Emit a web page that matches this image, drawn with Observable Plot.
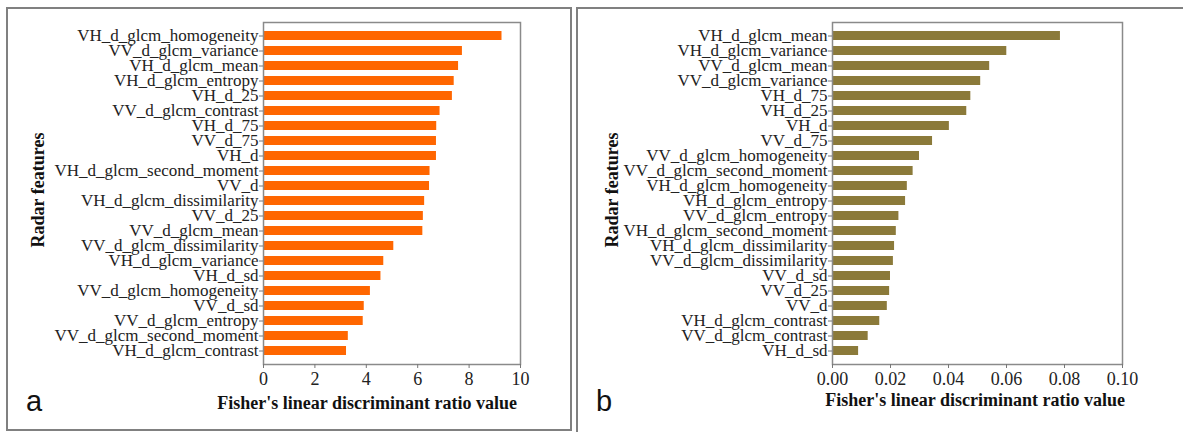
<!DOCTYPE html>
<html><head><meta charset="utf-8">
<script src="https://cdn.jsdelivr.net/npm/d3@7"></script>
<script src="https://cdn.jsdelivr.net/npm/@observablehq/plot@0.6"></script>
<style>
html,body{margin:0;padding:0;background:#fff;overflow:hidden;}
#wrap{position:relative;width:1183px;height:432px;overflow:hidden;background:#fff;}
.panel{position:absolute;box-sizing:border-box;border:2px solid #808080;}
.plotbox{position:absolute;top:0;}
.plotbox svg, .plotbox svg text{font-family:"Liberation Serif","Times New Roman",serif !important;}
.ttl{position:absolute;font:bold 18px "Liberation Serif",serif;line-height:18px;color:#111;white-space:nowrap;}
.ytl{position:absolute;font:bold 18px "Liberation Serif",serif;line-height:18px;color:#111;white-space:nowrap;transform:translate(-50%,-50%) rotate(-90deg);}
.lab{position:absolute;font:29px "Liberation Sans",Arial,sans-serif;line-height:29px;color:#111;}
</style></head><body>
<div id="wrap">
  <div class="panel" style="left:6px;top:7px;width:566px;height:424px;"></div>
  <div class="panel" style="left:576px;top:7px;width:640px;height:460px;"></div>
  <div id="plotA" class="plotbox" style="left:0;"></div>
  <div id="plotB" class="plotbox" style="left:577px;"></div>
  <div class="ytl" style="left:38px;top:190px;">Radar features</div>
  <div class="ytl" style="left:612px;top:190px;">Radar features</div>
  <div class="ttl" id="xtA" style="left:517px;top:394px;transform:translateX(-100%);">Fisher's linear discriminant ratio value</div>
  <div class="ttl" id="xtB" style="left:1125px;top:391px;transform:translateX(-100%);">Fisher's linear discriminant ratio value</div>
  <div class="lab" style="left:26px;top:387px;">a</div>
  <div class="lab" style="left:596px;top:387px;">b</div>
</div>
<script>
const featuresA = ["VH_d_glcm_homogeneity","VV_d_glcm_variance","VH_d_glcm_mean","VH_d_glcm_entropy","VH_d_25","VV_d_glcm_contrast","VH_d_75","VV_d_75","VH_d","VH_d_glcm_second_moment","VV_d","VH_d_glcm_dissimilarity","VV_d_25","VV_d_glcm_mean","VV_d_glcm_dissimilarity","VH_d_glcm_variance","VH_d_sd","VV_d_glcm_homogeneity","VV_d_sd","VV_d_glcm_entropy","VV_d_glcm_second_moment","VH_d_glcm_contrast"];
const valuesA = [9.28, 7.74, 7.59, 7.42, 7.35, 6.87, 6.74, 6.73, 6.73, 6.48, 6.46, 6.27, 6.22, 6.2, 5.07, 4.68, 4.57, 4.16, 3.92, 3.88, 3.3, 3.23];
const ticksA = [0, 2, 4, 6, 8, 10];

const featuresB = ["VH_d_glcm_mean","VH_d_glcm_variance","VV_d_glcm_mean","VV_d_glcm_variance","VH_d_75","VH_d_25","VH_d","VV_d_75","VV_d_glcm_homogeneity","VV_d_glcm_second_moment","VH_d_glcm_homogeneity","VH_d_glcm_entropy","VV_d_glcm_entropy","VH_d_glcm_second_moment","VH_d_glcm_dissimilarity","VV_d_glcm_dissimilarity","VV_d_sd","VV_d_25","VV_d","VH_d_glcm_contrast","VV_d_glcm_contrast","VH_d_sd"];
const valuesB = [0.0786, 0.0601, 0.0542, 0.0511, 0.0477, 0.0463, 0.0403, 0.0345, 0.0300, 0.0278, 0.0258, 0.0252, 0.0229, 0.0220, 0.0214, 0.0210, 0.0200, 0.0197, 0.0189, 0.0163, 0.0123, 0.0090];
const ticksB = [0, 0.02, 0.04, 0.06, 0.08, 0.10];

const serif = '"Liberation Serif", "Times New Roman", serif';

function makePlot(features, values, ticks, color, width, ml, mr, fmt) {
  const rows = features.map((f, i) => ({feature: f, value: values[i]}));
  return Plot.plot({
    width, height: 432,
    marginLeft: ml, marginRight: mr, marginTop: 22, marginBottom: 68,
    style: {fontFamily: serif, background: "transparent", overflow: "visible", color: "#222"},
    x: {domain: [0, ticks[ticks.length - 1]]},
    y: {domain: features, paddingInner: 0.41, paddingOuter: 0.46},
    marks: [
      Plot.barX(rows, {x: "value", y: "feature", fill: color}),
      Plot.frame({stroke: "#8a8a8a", strokeWidth: 1.5}),
      Plot.axisX({ticks, tickFormat: fmt, tickSize: 4, tickPadding: 4, fontSize: 18, fontFamily: serif, stroke: "#777", fill: "#222", label: null}),
      Plot.axisY({tickSize: 4, tickPadding: 1, fontSize: 17, fontFamily: serif, stroke: "#777", fill: "#222", label: null})
    ]
  });
}

document.getElementById("plotA").appendChild(
  makePlot(featuresA, valuesA, ticksA, "#ff6600", 572, 263, 52, d => d3.format("d")(d)));
document.getElementById("plotB").appendChild(
  makePlot(featuresB, valuesB, ticksB, "#8b7a3a", 606, 255, 61, d => d3.format(".2f")(d)));
</script>
</body></html>
